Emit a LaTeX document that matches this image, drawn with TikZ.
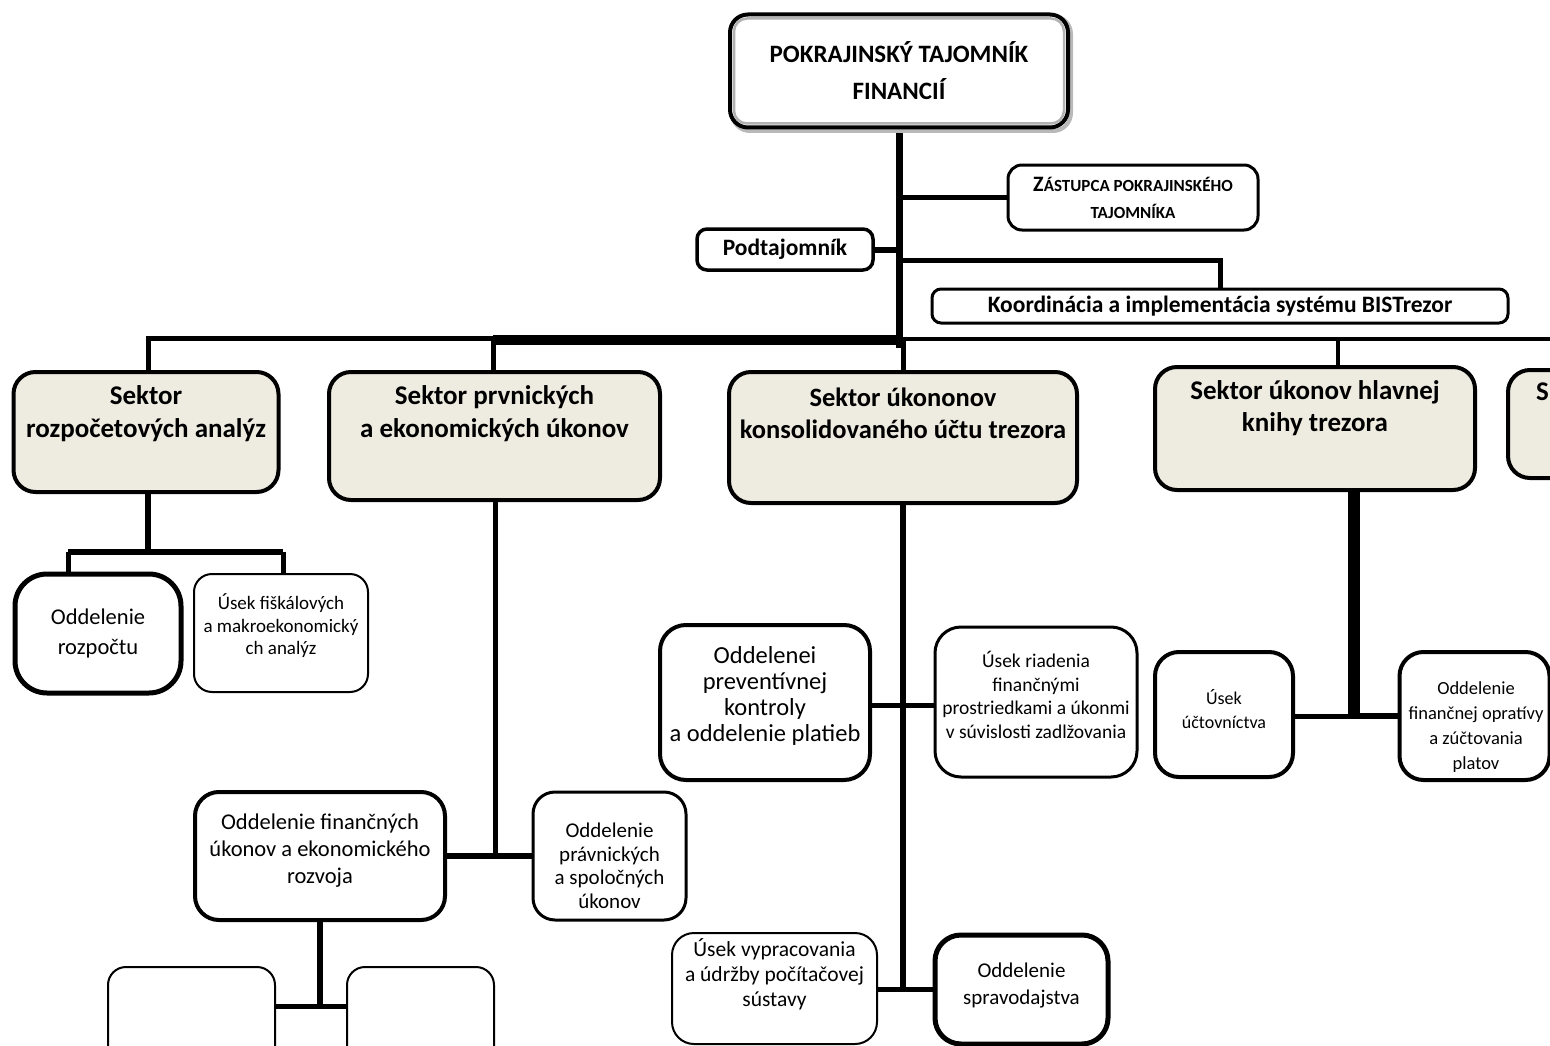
\documentclass[tikz,border=0pt]{standalone}
\usepackage{fontspec}
\setmainfont{Carlito}
\definecolor{beige}{HTML}{EEECE1}
\newcommand\myfs[2]{\fontsize{#1pt}{#2pt}\selectfont}
\pgfdeclarelayer{bg}
\pgfsetlayers{bg,main}
\tikzset{
  sector/.style={draw, line width=4pt, rounded corners=22pt, fill=beige, inner sep=0pt},
  sectext/.style={align=center, font=\bfseries\myfs{27}{32.5}, inner sep=0pt},
  ubox/.style={draw, fill=white, align=center, inner sep=0pt},
  btext/.style={align=center, inner sep=0pt},
  conn/.style={line width=#1, line join=miter},
}
\begin{document}
\begin{tikzpicture}[x=1pt,y=-1pt]
\useasboundingbox (0,0) rectangle (1550,1046);
\begin{scope}
\clip (0,0) rectangle (1550,1046);

% ---------- top level ----------
\draw[gray!55, line width=4pt, rounded corners=18pt] (732,16) rectangle (1071,131);
\node[ubox, line width=4pt, rounded corners=18pt, minimum width=338pt, minimum height=113pt,
      font=\bfseries\myfs{25}{37}] (top) at (899,71) {POKRAJINSKÝ TAJOMNÍK\\FINANCIÍ};
\draw[gray!60, line width=2.5pt, rounded corners=13pt]
  ([shift={(6,6)}]top.north west) rectangle ([shift={(-6,-6)}]top.south east);

\node[ubox, line width=3pt, rounded corners=14pt, minimum width=250pt, minimum height=65pt,
      font=\bfseries\myfs{17}{27}] (zast) at (1133,197.5)
      {{\myfs{22}{27}Z}ÁSTUPCA POKRAJINSKÉHO\\TAJOMNÍKA};
\node[ubox, line width=3.5pt, rounded corners=10pt, minimum width=176pt, minimum height=41pt,
      font=\bfseries\myfs{23.5}{26}] (pod) at (785,249.5) {Podtajomník};
\node[ubox, line width=3pt, rounded corners=9pt, minimum width=576pt, minimum height=34pt,
      font=\bfseries\myfs{23.5}{26}] (koord) at (1220,306) {Koordinácia a implementácia systému BISTrezor};

% ---------- sectors ----------
\node[sector, minimum width=265pt, minimum height=120pt] (s1) at (146,432) {};
\node[sectext] (s1t) at (146,413.5) {Sektor\\rozpočetových analýz};
\node[sector, minimum width=331pt, minimum height=128pt] (s2) at (494.5,436) {};
\node[sectext] (s2t) at (494.5,413.5) {Sektor prvnických\\a ekonomických úkonov};
\node[sector, minimum width=348pt, minimum height=131pt] (s3) at (903,437.5) {};
\node[sectext, font=\bfseries\myfs{26.5}{32.5}] (s3t) at (903,413.5) {Sektor úkononov\\konsolidovaného účtu trezora};
\node[sector, minimum width=320pt, minimum height=123pt] (s4) at (1315,428.5) {};
\node[sectext] (s4t) at (1315,408) {Sektor úkonov hlavnej\\knihy trezora};
\node[sector, minimum width=192pt, minimum height=108pt] (s5) at (1604,424) {};
\node[sectext, anchor=west] (s5t) at (1536,392) {S};

% ---------- sector 1 children ----------
\node[ubox, line width=5pt, rounded corners=32pt, minimum width=166pt, minimum height=119pt,
      font=\myfs{22.5}{30}] (rozp) at (98,633.5) {Oddelenie\\rozpočtu};
\node[ubox, line width=2pt, rounded corners=18pt, minimum width=174pt, minimum height=118pt] (fisk) at (281,633) {};
\node[btext, font=\myfs{19}{22.5}] (fiskt) at (281,626) {Úsek fiškálových\\a makroekonomický\\ch analýz};

% ---------- sector 2 children ----------
\node[ubox, line width=4pt, rounded corners=24pt, minimum width=250pt, minimum height=128pt] (fin) at (320,856) {};
\node[btext, font=\myfs{22.5}{27}] (fint) at (320,851) {Oddelenie finančných\\úkonov a ekonomického\\rozvoja};
\node[ubox, line width=3pt, rounded corners=22pt, minimum width=153pt, minimum height=128pt] (prav) at (609.5,856) {};
\node[btext, font=\myfs{21}{23.5}] (pravt) at (609.5,866) {Oddelenie\\právnických\\a spoločných\\úkonov};
\node[ubox, line width=2pt, rounded corners=18pt, minimum width=167pt, minimum height=113pt] (e1) at (191.5,1023.5) {};
\node[ubox, line width=2pt, rounded corners=18pt, minimum width=147pt, minimum height=113pt] (e2) at (420.5,1023.5) {};

% ---------- sector 3 children ----------
\node[ubox, line width=4pt, rounded corners=26pt, minimum width=210pt, minimum height=155pt] (prev) at (765,702.5) {};
\node[btext, font=\myfs{24.5}{26}] (prevt) at (765,696) {Oddelenei\\preventívnej\\kontroly\\a oddelenie platieb};
\node[ubox, line width=3pt, rounded corners=26pt, minimum width=202pt, minimum height=150pt] (riad) at (1036,702) {};
\node[btext, font=\myfs{19.5}{23.5}] (riadt) at (1036,695) {Úsek riadenia\\finančnými\\prostriedkami a úkonmi\\v súvislosti zadlžovania};
\node[ubox, line width=2pt, rounded corners=22pt, minimum width=205pt, minimum height=111pt,
      font=\myfs{21.5}{25}] (vyp) at (774.5,988.5) {Úsek vypracovania\\a údržby počítačovej\\sústavy\\[6pt]};
\node[ubox, line width=5pt, rounded corners=26pt, minimum width=173pt, minimum height=109pt] (sprav) at (1021.5,989.5) {};
\node[btext, font=\myfs{21}{27}] (spravt) at (1021.5,985.5) {Oddelenie\\spravodajstva};

% ---------- sector 4 children ----------
\node[ubox, line width=4pt, rounded corners=24pt, minimum width=138pt, minimum height=125pt] (ucto) at (1224,714.5) {};
\node[btext, font=\myfs{18}{24}] (uctot) at (1224,709) {Úsek\\účtovníctva};
\node[ubox, line width=4pt, rounded corners=24pt, minimum width=150pt, minimum height=128pt] (opr) at (1474.5,716) {};
\node[btext, font=\myfs{18.5}{25}] (oprt) at (1476,727) {Oddelenie\\finančnej opratívy\\a zúčtovania\\platov};

% ---------- junction coordinates ----------
\coordinate (trunkbot) at (899,348);
\coordinate (kj) at (899,260);
\coordinate (bus1) at (148,338);
\coordinate (bus2) at (495,338);
\coordinate (bus2b) at (493,340);
\coordinate (busM) at (899,340);
\coordinate (busR0) at (899,339);
\coordinate (busR) at (1556,339);
\coordinate (d3) at (903,339);
\coordinate (d4) at (1338,339);
\coordinate (j1) at (148,552);
\coordinate (j1l) at (68,552);
\coordinate (j1r) at (283,552);
\coordinate (j2) at (495,856);
\coordinate (fj) at (320,1006);
\coordinate (j3a) at (903,705);
\coordinate (j3b) at (903,989);
\coordinate (j4) at (1354,716);

% ---------- connectors ----------
\begin{pgfonlayer}{bg}
\draw[conn=7pt] (top.south) -- (trunkbot);
\draw[conn=5pt] (top.south |- zast.west) -- (zast.west);
\draw[conn=6pt] (pod.east) -- (pod.east -| top.south);
\draw[conn=5pt] (kj) -| (koord.north);
\draw[conn=5pt] (s1.north -| bus1) -- (bus1) -- (bus2);
\draw[conn=10pt] (bus2b) -- (busM);
\draw[conn=5pt] (bus2b) -- (s2.north -| bus2b);
\draw[conn=4.5pt] (busR0) -- (busR);
\draw[conn=5pt] (d3) -- (s3.north -| d3);
\draw[conn=4pt] (d4) -- (s4.north -| d4);
% sector 1
\draw[conn=6pt] (s1.south -| j1) -- (j1);
\draw[conn=6pt] (j1l) -- (j1r);
\draw[conn=5pt] (j1l) -- (rozp.north -| j1l);
\draw[conn=5pt] (j1r) -- (fisk.north -| j1r);
% sector 2
\draw[conn=5pt] (s2.south -| j2) -- (j2);
\draw[conn=6pt] (fin.east |- j2) -- (prav.west |- j2);
\draw[conn=6pt] (fin.south) -- (fj);
\draw[conn=5pt] (e1.east |- fj) -- (e2.west |- fj);
% sector 3
\draw[conn=6pt] (s3.south -| j3b) -- (j3b);
\draw[conn=5pt] (prev.east |- j3a) -- (riad.west |- j3a);
\draw[conn=5pt] (vyp.east |- j3b) -- (sprav.west |- j3b);
% sector 4
\draw[conn=12pt] (s4.south -| j4) -- (j4);
\draw[conn=5pt] (ucto.east |- j4) -- (j4);
\draw[conn=6pt] (j4) -- (opr.west |- j4);
\end{pgfonlayer}
\end{scope}
\end{tikzpicture}
\end{document}
